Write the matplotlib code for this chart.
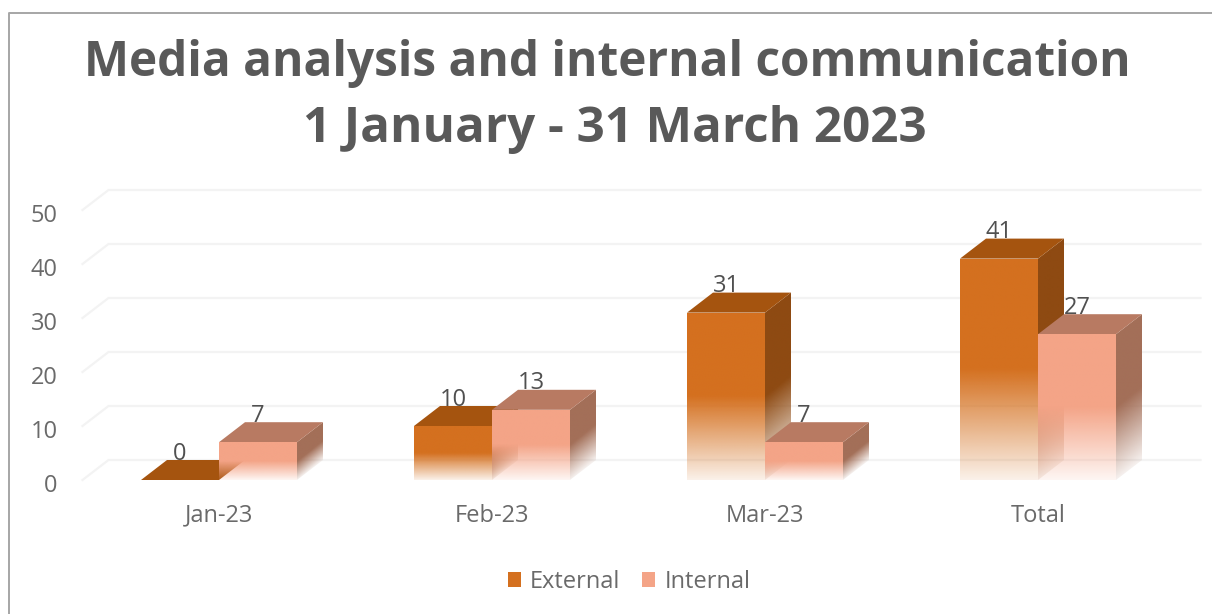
import numpy as np
import matplotlib
matplotlib.use("Agg")
import matplotlib.pyplot as plt
from matplotlib.patches import Polygon, Patch
from matplotlib.lines import Line2D
from matplotlib.colors import to_rgb
from matplotlib.transforms import ScaledTranslation

categories = ["Jan-23", "Feb-23", "Mar-23", "Total"]
external = [0, 10, 31, 41]
internal = [7, 13, 7, 27]
y_ticks = [0, 10, 20, 30, 40, 50]
title_lines = ["Media analysis and internal communication", "1 January - 31 March 2023"]

W, H = 1212, 614
plt.rcParams["font.family"] = ["Open Sans", "DejaVu Sans"]
fig = plt.figure(figsize=(W / 100, H / 100), dpi=100, facecolor="white")
ax = fig.add_axes([82.5 / W, 1 - 480 / H, 1092 / W, 270 / H])

BAR_W = 78 / 273
DX = 26 / 273
DY = 20 / 5.4
C_EXT = dict(front="#D4701F", top="#A5540F", side="#8E4A12")
C_INT = dict(front="#F4A487", top="#B87A62", side="#A36F58")
GRID = "#F3F3F3"
TEXT = "#6A6A6A"


def fade(ax, color, extent, v, poly, z, slant=0.0):
    """Solid in the upper half of the bar, fading to near white at the floor."""
    y0, y1 = extent[2], extent[3]
    ys = np.linspace(y1, y0, 200)
    us = np.linspace(0, 1, 24)
    t = np.clip((ys[:, None] - slant * us[None, :]) / max(v, 1e-6), 0, 1)
    a = np.clip(0.10 + t / 0.5 * 0.90, 0, 1)
    img = np.ones((200, 24, 4))
    img[..., :3] = to_rgb(color)
    img[..., 3] = a
    im = ax.imshow(img, extent=extent, aspect="auto", origin="upper",
                   zorder=z, interpolation="bilinear")
    p = Polygon(poly, closed=True, transform=ax.transData)
    im.set_clip_path(p)


def bar3d(ax, x0, v, colors, z):
    x1 = x0 + BAR_W
    if v > 0:
        side = [(x1, 0), (x1 + DX, DY), (x1 + DX, v + DY), (x1, v)]
        fade(ax, colors["side"], [x1, x1 + DX, 0, v + DY], v, side, z, slant=DY)
    top = [(x0, v), (x0 + DX, v + DY), (x1 + DX, v + DY), (x1, v)]
    ax.add_patch(Polygon(top, closed=True, fc=colors["top"], ec="none", zorder=z + 0.1, clip_on=False))
    if v > 0:
        front = [(x0, 0), (x1, 0), (x1, v), (x0, v)]
        fade(ax, colors["front"], [x0, x1, 0, v], v, front, z + 0.2)


# gridlines with the slanted end on the left wall
xl, xr = -0.5, 3.5
for v in y_ticks:
    ax.plot([xl, xl + DX, xr + DX], [v, v + DY, v + DY], color=GRID, lw=1.6,
            zorder=1, clip_on=False, solid_joinstyle="miter")

for i, (e, n) in enumerate(zip(external, internal)):
    bar3d(ax, i - BAR_W, e, C_EXT, 3 + i)
    bar3d(ax, i, n, C_INT, 3.5 + i)
    ax.text(i - BAR_W / 2, e + DY + 1.2, str(e), ha="center", va="center",
            fontsize=17, color="#505050", zorder=20)
    ax.text(i + BAR_W / 2, n + DY + 1.2, str(n), ha="center", va="center",
            fontsize=17, color="#505050", zorder=20)

ax.set_xlim(xl, xr)
ax.set_ylim(0, 50)
ax.set_xticks(range(len(categories)), categories)
ax.set_yticks(y_ticks)
ax.tick_params(axis="both", length=0, labelsize=17, labelcolor=TEXT)
ax.tick_params(axis="x", pad=17)
ax.tick_params(axis="y", pad=18)
shift = ScaledTranslation(0, -3 / 100, fig.dpi_scale_trans)
for lab in ax.get_yticklabels():
    lab.set_transform(lab.get_transform() + shift)
for s in ax.spines.values():
    s.set_visible(False)
ax.patch.set_visible(False)

for line, xpx, ypx, size in zip(title_lines, [607, 615], [63, 130], [34.4, 35.5]):
    fig.text(xpx / W, 1 - ypx / H, line, ha="center", va="center", fontsize=size,
             fontweight="bold", color="#595959")

handles = [Patch(fc=C_EXT["front"], ec="none", label="External"),
           Patch(fc=C_INT["front"], ec="none", label="Internal")]
fig.legend(handles=handles, loc="center", bbox_to_anchor=(629 / W, 1 - 582 / H), ncol=2,
           frameon=False, fontsize=17, labelcolor=TEXT, handlelength=0.56, handleheight=0.56,
           handletextpad=0.4, columnspacing=0.9)

fig.add_artist(Line2D([8.5 / W, 8.5 / W, 1], [0, 1 - 12.5 / H, 1 - 12.5 / H],
                      transform=fig.transFigure, color="#A6A6A6", lw=1.4))

fig.savefig("out.png", dpi=100)
